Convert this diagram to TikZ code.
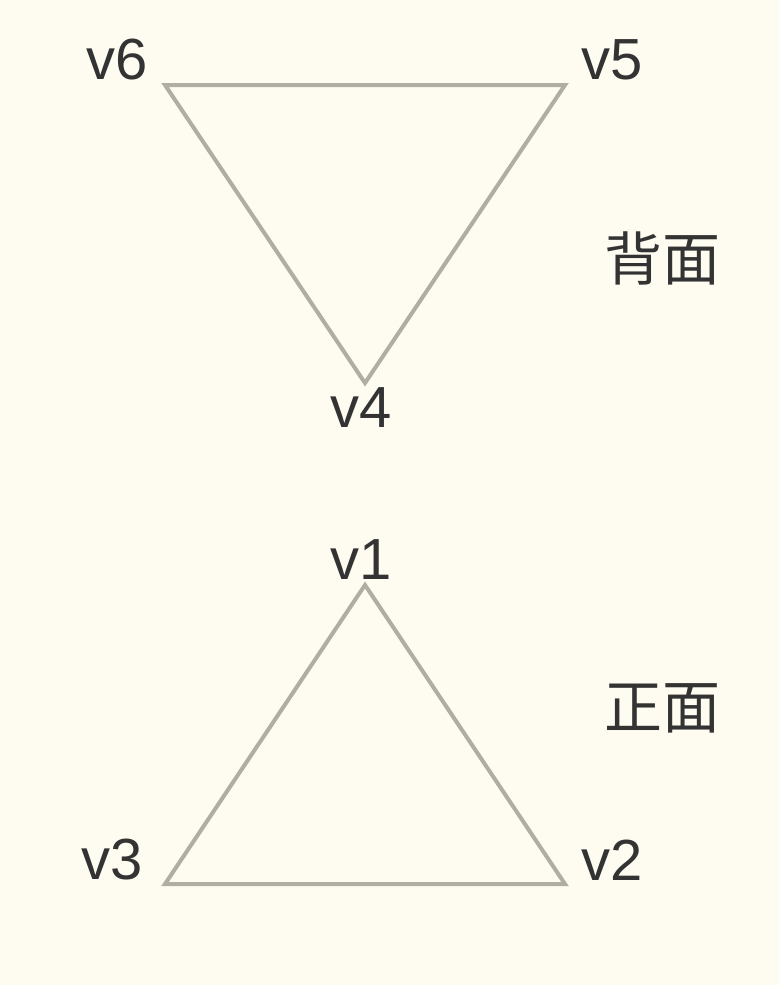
\documentclass[tikz,border=0pt]{standalone}
\usepackage{fontspec}
\setmainfont{Liberation Sans}
\newfontfamily\cjk{Noto Sans CJK SC}
\usepackage{tikz}
\usetikzlibrary{positioning}
\definecolor{paper}{HTML}{FEFBF0}
\definecolor{edgegray}{HTML}{B0ADA5}
\definecolor{inkgray}{HTML}{333333}

\begin{document}
\begin{tikzpicture}[x=1pt,y=-1pt]

 \tikzset{face edge/.style={
 		draw=edgegray,
 		line width=4pt,
 		line join=miter
 	},
 	vertex label/.style={
 		text=inkgray,
 		font=\fontsize{58}{58}\selectfont,
 		inner sep=0pt
 	},
 	face label/.style={
 		vertex label,
 		font=\fontsize{58}{58}\selectfont\cjk
 	}
 }
 %background
 \fill[paper] (0,0) rectangle (779,985);
 \useasboundingbox (0,0) rectangle (779,985);

 % back face
 \coordinate (v6) at (165,85);
 \coordinate (v5) at (565,85);
 \coordinate (v4) at (365,383);
 \draw[face edge] (v6) -- (v5) -- (v4) -- cycle;
 \node[vertex label] (l6) at (117,60) {v6};
 \node[vertex label] (l5) at (612,60) {v5};
 \node[vertex label] (l4) at (361,408) {v4};
 \node[face label] (back) at (662,258) {背面};

 % front face
 \coordinate (v1) at (365,585);
 \coordinate (v2) at (565,884);
 \coordinate (v3) at (165,884);
 \draw[face edge] (v1) -- (v2) -- (v3) -- cycle;
 \node[vertex label] (l1) at (361,560) {v1};
 \node[vertex label] (l2) at (612,860) {v2};
 \node[vertex label] (l3) at (112,860) {v3};
 \node[face label] (front) at (662,708) {正面};

\end{tikzpicture}
\end{document}
